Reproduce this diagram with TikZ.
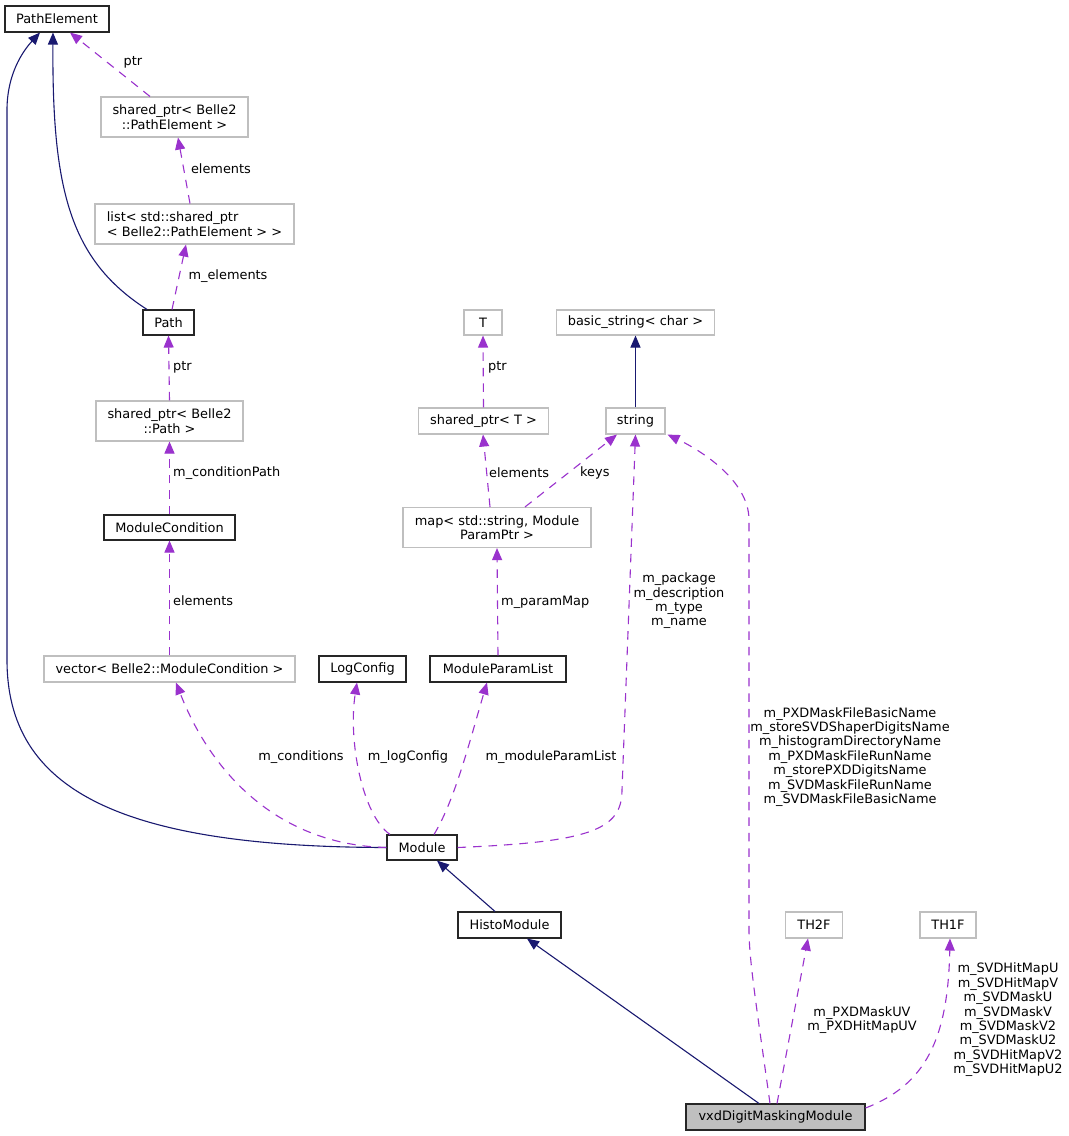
\documentclass[tikz,border=0pt]{standalone}
\usepackage{fontspec}
\setmainfont{DejaVu Sans}
\usetikzlibrary{arrows.meta,calc}
\definecolor{navy}{HTML}{191970}
\definecolor{purp}{HTML}{9A32CD}
\definecolor{gbord}{HTML}{BFBFBF}
\definecolor{vfill}{HTML}{BFBFBF}
\begin{document}
\begin{tikzpicture}[x=1pt,y=-1pt,
  font=\fontsize{12.9}{14.4}\selectfont,
  box/.style={draw=black!85, line width=1.1pt, inner sep=0pt, text=black, rectangle, align=center},
  gbox/.style={draw=gbord, line width=1.1pt, inner sep=0pt, text=black, rectangle, align=center},
  inh/.style={draw=navy, line width=1.1pt, -{Triangle[length=12pt,width=10pt]}},
  use/.style={draw=purp, line width=1.1pt, dash pattern=on 8.5pt off 7pt, -{Triangle[length=12pt,width=10pt]}},
  lbl/.style={inner sep=0pt, align=center, text=black}]
\useasboundingbox (0,0) rectangle (1069,1136);
\fill[white] (0,0) rectangle (1069,1136);
% nodes
\node[box, minimum width=104pt, minimum height=26pt] (PE) at (57,19) {PathElement};
\node[gbox, minimum width=147pt, minimum height=40pt] (spPE) at (174.5,117) {shared\_ptr< Belle2\\::PathElement >};
\node[gbox, minimum width=199pt, minimum height=40pt, align=left] (list) at (194.5,224) {list< std::shared\_ptr\\< Belle2::PathElement > >};
\node[box, minimum width=51pt, minimum height=25pt] (Path) at (168.5,322.5) {Path};
\node[gbox, minimum width=147pt, minimum height=40pt] (spPath) at (169.5,421) {shared\_ptr< Belle2\\::Path >};
\node[box, minimum width=131pt, minimum height=25pt] (MC) at (169.5,527.5) {ModuleCondition};
\node[gbox, minimum width=251pt, minimum height=26pt] (vec) at (169.5,669) {vector< Belle2::ModuleCondition >};
\node[box, minimum width=87pt, minimum height=26pt] (LC) at (362.5,669) {LogConfig};
\node[box, minimum width=136pt, minimum height=26pt] (MPL) at (498,669) {ModuleParamList};
\node[box, minimum width=70pt, minimum height=25pt] (Mod) at (422,847.5) {Module};
\node[box, minimum width=103pt, minimum height=26pt] (Histo) at (509.5,925) {HistoModule};
\node[box, fill=vfill, minimum width=179pt, minimum height=26pt] (vxd) at (775.5,1117) {vxdDigitMaskingModule};
\node[gbox, minimum width=57pt, minimum height=26pt] (TH2F) at (814,925) {TH2F};
\node[gbox, minimum width=56pt, minimum height=26pt] (TH1F) at (948,925) {TH1F};
\node[gbox, minimum width=38pt, minimum height=25pt] (T) at (483,322.5) {T};
\node[gbox, minimum width=158pt, minimum height=25pt] (bs) at (635.5,322.5) {basic\_string< char >};
\node[gbox, minimum width=130pt, minimum height=26pt] (spT) at (483.5,421) {shared\_ptr< T >};
\node[gbox, minimum width=59pt, minimum height=26pt] (str) at (635.5,421) {string};
\node[gbox, minimum width=188pt, minimum height=40pt] (map) at (497,527.5) {map< std::string, Module\\ParamPtr >};
% inheritance edges
\draw[inh] (Mod.west) .. controls (120,847) and (7,790) .. (7,660) -- (7,110) .. controls (7,75) and (22,52) .. ([xshift=-17pt]PE.south);
\draw[inh] ([xshift=-21.5pt]Path.north) .. controls (70,260) and (52,190) .. ([xshift=-4pt]PE.south);
\draw[inh] (str.north) -- (bs.south);
\draw[inh] ([xshift=-16.5pt]vxd.north) -- ([xshift=17.5pt]Histo.south);
\draw[inh] ([xshift=-14.5pt]Histo.north) -- ([xshift=15pt]Mod.south);
% usage edges
\draw[use] ([xshift=-24.5pt]spPE.north) -- ([xshift=13pt]PE.south);
\node[lbl] (l1) at (133,62) {ptr};
\draw[use] ([xshift=-4.5pt]list.north) -- ([xshift=3.5pt]spPE.south);
\node[lbl] (l2) at (221,169) {elements};
\draw[use] ([xshift=3.5pt]Path.north) -- ([xshift=-8.5pt]list.south);
\node[lbl] (l3) at (228,276) {m\_elements};
\draw[use] (spPath.north) -- (Path.south);
\node[lbl, anchor=west] (l4) at (173,367) {ptr};
\draw[use] (MC.north) -- (spPath.south);
\node[lbl, anchor=west] (l5) at (173,473) {m\_conditionPath};
\draw[use] (vec.north) -- (MC.south);
\node[lbl, anchor=west] (l6) at (173,601) {elements};
\draw[use] (Mod.west) .. controls (280,845) and (212,775) .. ([xshift=6.5pt]vec.south);
\node[lbl] (l7) at (301,757) {m\_conditions};
\draw[use] ([xshift=-32pt]Mod.north) .. controls (362,815) and (348,740) .. ([xshift=-5.5pt]LC.south);
\node[lbl] (l8) at (408,757) {m\_logConfig};
\draw[use] ([xshift=12pt]Mod.north) .. controls (455,800) and (470,740) .. ([xshift=-11pt]MPL.south);
\node[lbl] (l9) at (551,757) {m\_moduleParamList};
\draw[use] (Mod.east) .. controls (590,842) and (622,830) .. (622,790) -- (str.south);
\node[lbl] (l10) at (679,601) {m\_package\\m\_description\\m\_type\\m\_name};
\draw[use] (MPL.north) -- (map.south);
\node[lbl, anchor=west] (l11) at (501,602) {m\_paramMap};
\draw[use] ([xshift=-7pt]map.north) -- ([xshift=-0.5pt]spT.south);
\node[lbl, anchor=west] (l12) at (489,473) {elements};
\draw[use] ([xshift=28pt]map.north) -- ([xshift=-18.5pt]str.south);
\node[lbl, anchor=west] (l13) at (580,473) {keys};
\draw[use] (spT.north) -- (T.south);
\node[lbl, anchor=west] (l14) at (488,367) {ptr};
\draw[use] ([xshift=-5.5pt]vxd.north) .. controls (757,1010) and (749,960) .. (749,930) -- (749,520) .. controls (749,480) and (700,450) .. ([xshift=2pt]str.south east);
\node[lbl] (l15) at (850,757) {m\_PXDMaskFileBasicName\\m\_storeSVDShaperDigitsName\\m\_histogramDirectoryName\\m\_PXDMaskFileRunName\\m\_storePXDDigitsName\\m\_SVDMaskFileRunName\\m\_SVDMaskFileBasicName};
\draw[use] ([xshift=1.5pt]vxd.north) -- ([xshift=-6pt]TH2F.south);
\node[lbl] (l16) at (862,1020) {m\_PXDMaskUV\\m\_PXDHitMapUV};
\draw[use] ([yshift=9pt]vxd.east) .. controls (925,1085) and (948,1040) .. ([xshift=2pt]TH1F.south);
\node[lbl] (l17) at (1008,1020) {m\_SVDHitMapU\\m\_SVDHitMapV\\m\_SVDMaskU\\m\_SVDMaskV\\m\_SVDMaskV2\\m\_SVDMaskU2\\m\_SVDHitMapV2\\m\_SVDHitMapU2};
\end{tikzpicture}
\end{document}
